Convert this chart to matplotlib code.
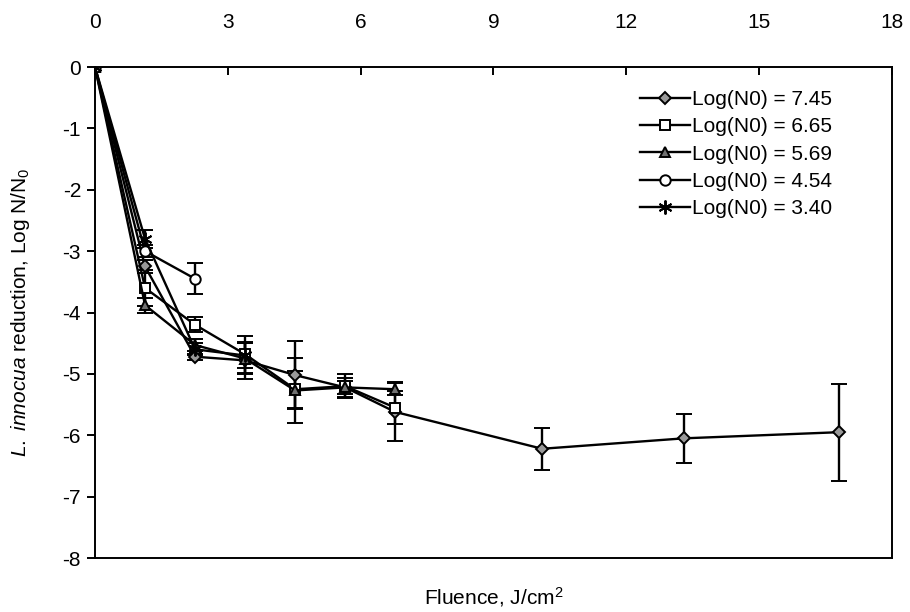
import numpy as np
import matplotlib.pyplot as plt
from matplotlib.container import ErrorbarContainer

plt.rcParams['font.family'] = ['Liberation Sans', 'DejaVu Sans']
plt.rcParams['mathtext.fontset'] = 'custom'
plt.rcParams['mathtext.rm'] = 'Liberation Sans'
plt.rcParams['mathtext.it'] = 'Liberation Sans:italic'

fluence = [0, 1.13, 2.26, 3.39, 4.52, 5.65, 6.78, 10.1, 13.3, 16.8]

labels = ['Log(N0) = 7.45', 'Log(N0) = 6.65', 'Log(N0) = 5.69',
          'Log(N0) = 4.54', 'Log(N0) = 3.40']

y745 = [0, -3.25, -4.72, -4.78, -5.02, -5.22, -5.62, -6.22, -6.05, -5.95]
e745 = [0, 0.10, 0.05, 0.30, 0.55, 0.10, 0.48, 0.34, 0.40, 0.79]
y665 = [0, -3.60, -4.20, -4.68, -5.25, -5.20, -5.55]
e665 = [0, 0.30, 0.12, 0.30, 0.30, 0.20, 0.27]
y569 = [0, -3.88, -4.53, -4.75, -5.27, -5.22, -5.25]
e569 = [0, 0.12, 0.10, 0.25, 0.53, 0.15, 0.10]
y454 = [0, -3.00, -3.45]
e454 = [0, 0.10, 0.25]
y340 = [0, -2.80, -4.60, -4.70]
e340 = [0, 0.15, 0.10, 0.20]

series = [y745, y665, y569, y454, y340]
errs = [e745, e665, e569, e454, e340]
markers = ['D', 's', '^', 'o', (6, 2, 0)]
fills = ['#999999', 'white', '#707070', 'white', 'black']
msizes = [6.5, 7.5, 7.5, 7.5, 10]

fig = plt.figure(figsize=(9.1, 6.12), dpi=100)
ax = fig.add_axes([0.1044, 0.0882, 0.8758, 0.8023])

for ys, es, m, fc, ms, lab in zip(series, errs, markers, fills, msizes, labels):
    xs = fluence[:len(ys)]
    ax.errorbar(xs, ys, yerr=es, color='black', lw=1.7, ecolor='black',
                elinewidth=1.7, capsize=6, capthick=1.7, marker=m,
                markersize=ms, markerfacecolor=fc, markeredgecolor='black',
                markeredgewidth=1.4, label=lab)

ax.set_xlim(0, 18)
ax.set_ylim(-8, 0)
ax.set_xticks(np.arange(0, 19, 3))
ax.set_yticks(np.arange(-8, 1, 1))
ax.set_yticklabels([str(v) for v in range(-8, 1)])
ax.xaxis.tick_top()
ax.tick_params(axis='x', direction='in', length=6, width=1.4, labelsize=15, pad=25)
ax.tick_params(axis='y', direction='out', length=6, width=1.4, labelsize=15, pad=4)
for s in ax.spines.values():
    s.set_linewidth(1.4)

ax.set_xlabel('Fluence, J/cm$^2$', fontsize=15)
ax.xaxis.set_label_position('bottom')
ax.xaxis.set_label_coords(0.5, -0.056)
ax.set_ylabel('$\\mathit{L.\\ innocua}$ reduction, Log N/N$_0$', fontsize=15)
ax.yaxis.set_label_coords(-0.079, 0.5)

handles, labs = ax.get_legend_handles_labels()
handles = [h[0] if isinstance(h, ErrorbarContainer) else h for h in handles]
ax.legend(handles, labs, loc='upper left', bbox_to_anchor=(0.684, 0.953),
          frameon=False, fontsize=15, handlelength=2.4, handletextpad=0.1,
          labelspacing=0.4, borderpad=0, borderaxespad=0)

fig.savefig('out.png', dpi=100)
